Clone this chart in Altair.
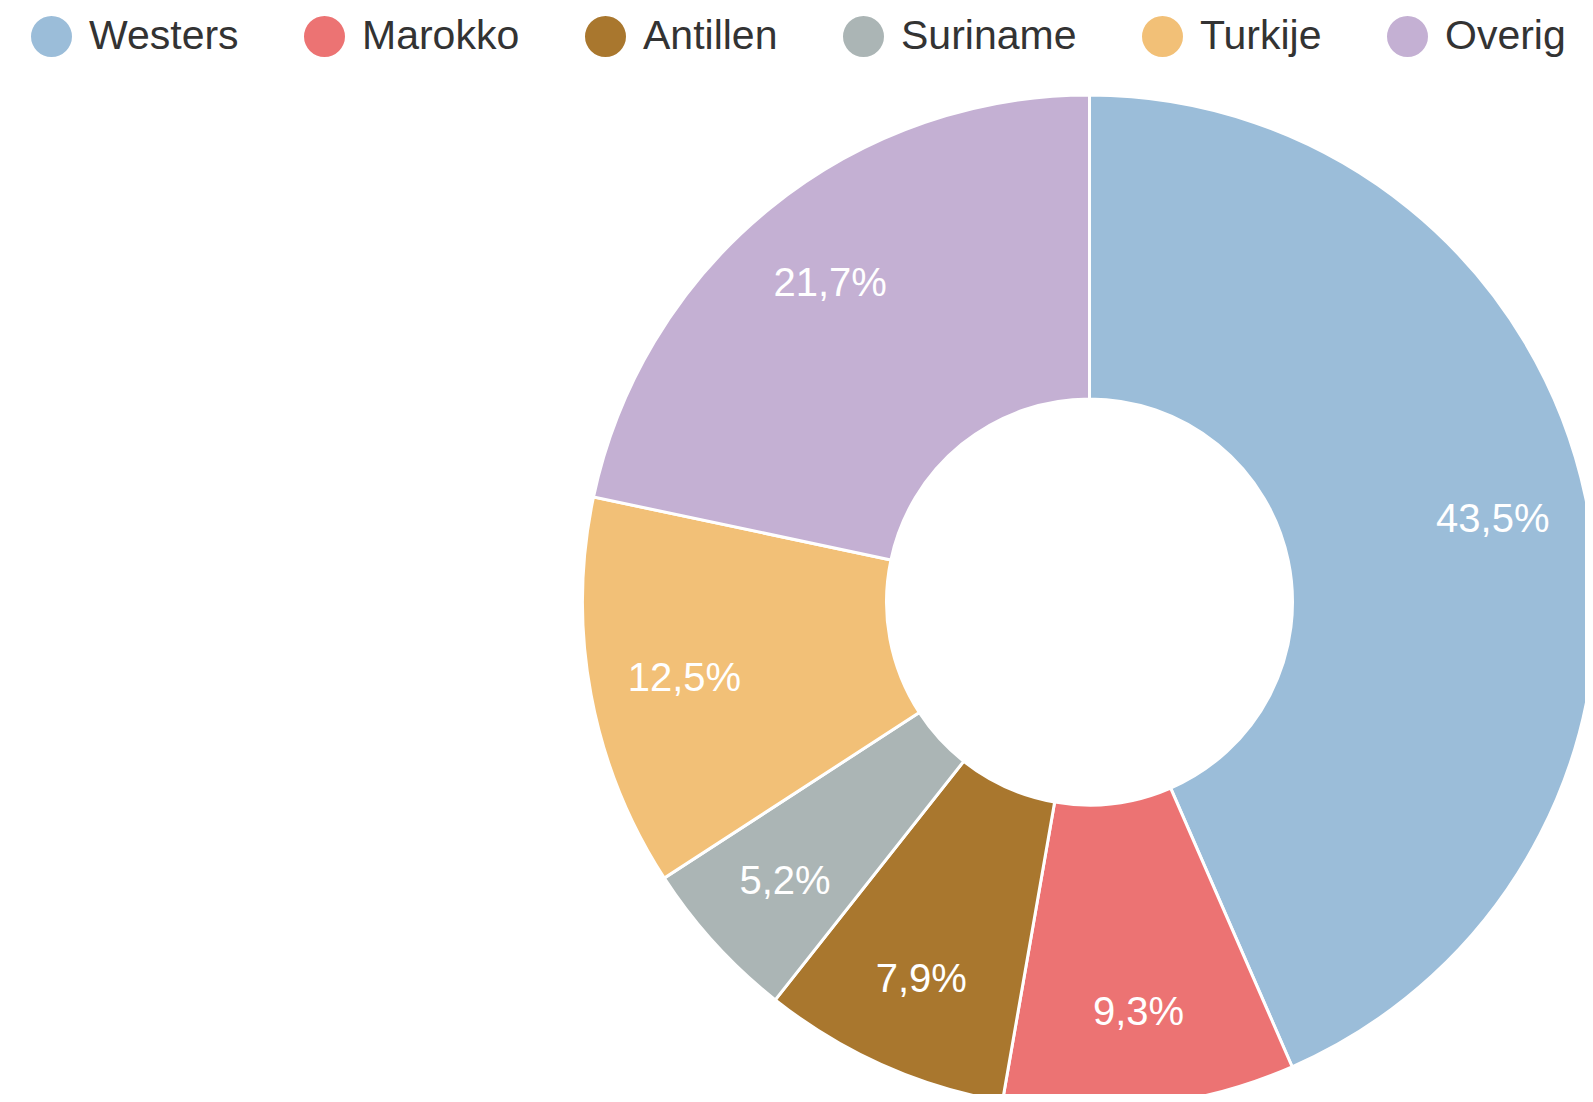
import altair as alt
import pandas as pd

categories = ["Westers", "Marokko", "Antillen", "Suriname", "Turkije", "Overig"]
values = [43.5, 9.3, 7.9, 5.2, 12.5, 21.7]
colors = ["#9bbdd9", "#ec7373", "#a9772e", "#abb5b5", "#f2c077", "#c4b0d3"]

df = pd.DataFrame({
    "categorie": categories,
    "aandeel": values,
    "volgorde": list(range(len(categories))),
})
df["label"] = [f"{v:.1f}".replace(".", ",") + "%" for v in values]

CX, CY = 1081.5, 594

base = alt.Chart(df).encode(
    theta=alt.Theta("aandeel:Q", stack=True),
    order=alt.Order("volgorde:Q"),
)

arcs = base.mark_arc(
    outerRadius=507, innerRadius=203, stroke="white", strokeWidth=3
).encode(
    x=alt.value(CX),
    y=alt.value(CY),
    color=alt.Color(
        "categorie:N",
        scale=alt.Scale(domain=categories, range=colors),
        legend=alt.Legend(
            orient="none",
            legendX=23,
            legendY=8,
            direction="horizontal",
            title=None,
            symbolType="circle",
            symbolSize=1681,
            symbolStrokeWidth=0,
            symbolOpacity=1,
            labelFontSize=41,
            labelFont="Liberation Sans",
            labelColor="#333333",
            labelLimit=0,
            columnPadding=65,
            labelOffset=17,
            padding=0,
        ),
    ),
)

text = base.mark_text(
    radius=412, dy=2, fontSize=40, font="Liberation Sans", color="white",
    baseline="middle", align="center"
).encode(
    x=alt.value(CX),
    y=alt.value(CY),
    text="label:N",
)

chart = (arcs + text).properties(
    width=1577, height=1086, autosize=alt.AutoSizeParams(type="none"), padding=0
).configure_view(stroke=None)

chart.save("out.html", embed_options={"renderer": "svg", "actions": False})
